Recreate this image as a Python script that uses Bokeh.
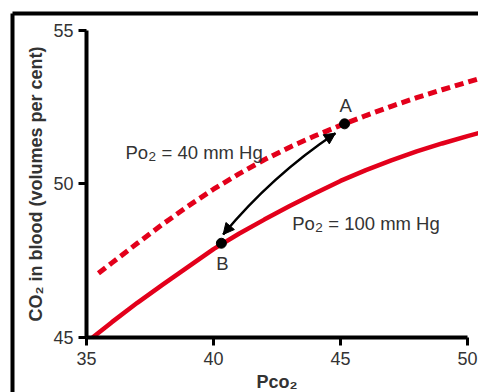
from bokeh.plotting import figure
from bokeh.models import LinearAxis, FixedTicker, Range1d, Arrow, NormalHead
from bokeh.core.properties import value
from bokeh.embed import file_html
from bokeh.resources import INLINE

# Po2 = 100 mm Hg curve (solid)
pco2_100 = [35.24, 36, 37, 38, 39, 40, 41, 42, 43, 44, 45, 46, 47, 48, 49, 50, 50.45]
co2_100 = [45.0, 45.5, 46.13, 46.72, 47.3, 47.88, 48.38, 48.84, 49.28, 49.7, 50.1,
           50.45, 50.77, 51.06, 51.32, 51.56, 51.66]

# Po2 = 40 mm Hg curve (dashed)
pco2_40 = [35.47, 36, 37, 38, 39, 40, 41, 42, 43, 44, 45, 46, 47, 48, 49, 50, 50.45]
co2_40 = [47.09, 47.43, 48.07, 48.69, 49.28, 49.83, 50.33, 50.79, 51.2, 51.57, 51.91,
          52.23, 52.53, 52.81, 53.07, 53.32, 53.43]

x_ticks = [35, 40, 45, 50]
y_ticks = [45, 50, 55]

point_names = ["A", "B"]
point_x = [45.16, 40.31]
point_y = [51.96, 48.07]

# annotation positions (data units)
label_a_xy = (45.2, 52.56)
label_b_xy = (40.35, 47.41)
label40_xy = (36.535, 51.036)
label100_xy = (43.098, 48.70)
arrow_b_end = (40.38, 48.355)
arrow_a_end = (44.80, 51.655)
arrow_ctrl = (42.30, 50.27)

RED = "#e3001b"
TXT = "#333333"
FONT = "Liberation Sans"
FS = "18.5px"

p = figure(width=478, height=392, output_backend="svg", toolbar_location=None,
           x_range=Range1d(32.087, 50.433), y_range=Range1d(43.208, 55.554),
           x_axis_location=None, y_axis_location=None,
           min_border_left=12, min_border_right=0, min_border_top=13, min_border_bottom=0)
p.grid.visible = False
p.outline_line_color = None
p.background_fill_color = "white"
p.border_fill_color = "white"

def style_axis(ax):
    ax.axis_line_width = 4
    ax.axis_line_color = "black"
    ax.major_tick_line_width = 3
    ax.major_tick_line_color = "black"
    ax.major_tick_out = 8
    ax.major_tick_in = 0
    ax.minor_tick_out = 0
    ax.minor_tick_in = 0
    ax.major_label_text_font = FONT
    ax.major_label_text_font_size = "18px"
    ax.major_label_text_color = TXT
    ax.axis_label_text_font = FONT
    ax.axis_label_text_font_size = "18px"
    ax.axis_label_text_font_style = "bold"
    ax.axis_label_text_color = TXT

xaxis = LinearAxis(fixed_location=45, bounds=(35, 50), ticker=FixedTicker(ticks=x_ticks),
                   axis_label="Pco\u2082")
style_axis(xaxis)
xaxis.major_label_standoff = 7
xaxis.axis_label_standoff = 3
p.add_layout(xaxis, "below")

yaxis = LinearAxis(fixed_location=35, bounds=(45, 55), ticker=FixedTicker(ticks=y_ticks),
                   axis_label="CO\u2082 in blood (volumes per cent)")
style_axis(yaxis)
yaxis.major_label_standoff = 5
yaxis.axis_label_standoff = 4
p.add_layout(yaxis, "left")

def border_axis():
    return LinearAxis(ticker=FixedTicker(ticks=[]), major_tick_out=0, major_tick_in=0,
                      minor_tick_out=0, minor_tick_in=0, major_label_standoff=0,
                      axis_label_standoff=0, major_label_text_font_size="0px",
                      axis_line_width=4, axis_line_color="black")

p.add_layout(border_axis(), "left")
p.add_layout(border_axis(), "above")

# curves
p.line(pco2_40, co2_40, line_color=RED, line_width=5, line_dash="9 5")
p.line(pco2_100, co2_100, line_color=RED, line_width=4.5)

# double-headed curved arrow
p.quadratic(x0=[arrow_b_end[0]], y0=[arrow_b_end[1]], x1=[arrow_a_end[0]], y1=[arrow_a_end[1]],
            cx=[arrow_ctrl[0]], cy=[arrow_ctrl[1]], line_color="black", line_width=2.5)
for end in (arrow_a_end, arrow_b_end):
    p.add_layout(Arrow(x_start=arrow_ctrl[0], y_start=arrow_ctrl[1], x_end=end[0], y_end=end[1],
                       line_alpha=0, line_width=0,
                       end=NormalHead(size=11, fill_color="black", line_color="black", line_width=1)))

# points
p.scatter(point_x, point_y, size=10, color="black")

# labels
p.text(x=[label_a_xy[0], label_b_xy[0]], y=[label_a_xy[1], label_b_xy[1]], text=point_names,
       text_font=value(FONT), text_font_size=FS, text_color=TXT,
       text_align="center", text_baseline="middle")

def po2_label(xy, rest):
    common = dict(text_font=value(FONT), text_color=TXT, text_align="left",
                  text_baseline="alphabetic")
    p.text(x=[xy[0]], y=[xy[1]], text=["Po"], text_font_size=FS, **common)
    p.text(x=[xy[0]], y=[xy[1]], text=["2"], text_font_size="13.5px",
           x_offset=23, y_offset=4, **common)
    p.text(x=[xy[0]], y=[xy[1]], text=[rest], text_font_size=FS,
           x_offset=36, **common)

po2_label(label40_xy, "= 40 mm Hg")
po2_label(label100_xy, "= 100 mm Hg")

open("out.html", "w").write(file_html(p, INLINE))
